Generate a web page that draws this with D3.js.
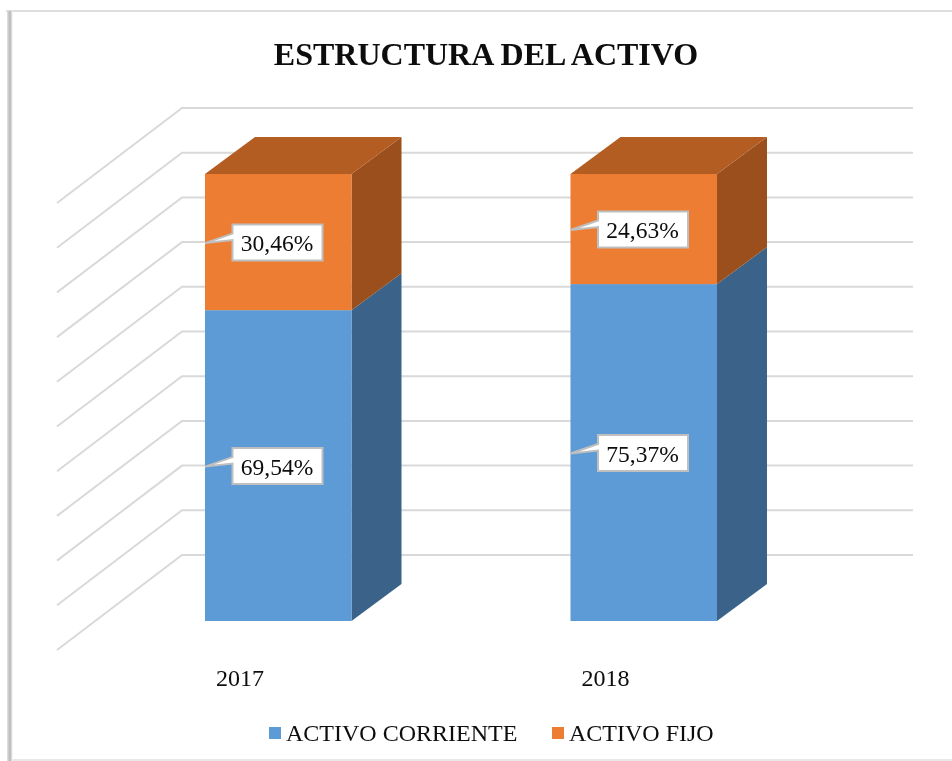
<!DOCTYPE html>
<html><head><meta charset="utf-8">
<script src="https://cdn.jsdelivr.net/npm/d3@7"></script>
<style>html,body{margin:0;padding:0;background:#fff}svg{display:block}text{font-family:"Liberation Serif",serif;fill:#0b0b0b}</style>
</head><body><script>
const title = "ESTRUCTURA DEL ACTIVO";
const categories = ["2017", "2018"];
const seriesNames = ["ACTIVO CORRIENTE", "ACTIVO FIJO"];
const activoCorriente = [69.54, 75.37];
const activoFijo = [30.46, 24.63];
const frontColors = ["#5B9BD5", "#ED7D31"];
const sideColors = ["#3A6489", "#9A4F1C"];
const topColors = ["#4A7DAB", "#B45D22"];
const gridColor = "#D9D9D9";
const fmt = v => v.toFixed(2).replace(".", ",") + "%";

const W = 952, H = 761;
const svg = d3.select("body").append("svg").attr("width", W).attr("height", H);
const defs = svg.append("defs");
const lg = defs.append("linearGradient").attr("id", "edge");
lg.append("stop").attr("offset", 0).attr("stop-color", "#e6e6e6");
lg.append("stop").attr("offset", .5).attr("stop-color", "#b5b5b5");
lg.append("stop").attr("offset", 1).attr("stop-color", "#ffffff");
defs.append("filter").attr("id", "soft").append("feGaussianBlur").attr("stdDeviation", 0.4);

const root = svg.append("g").attr("filter", "url(#soft)");
// frame
root.append("rect").attr("x", 6).attr("y", 10).attr("width", W - 6).attr("height", 2).attr("fill", "#dedede");
root.append("rect").attr("x", 7).attr("y", 11).attr("width", 6).attr("height", H - 11).attr("fill", "url(#edge)");
root.append("rect").attr("x", 13).attr("y", 759).attr("width", W - 13).attr("height", 2).attr("fill", "#e8e8e8");

// 3D projection
const y = d3.scaleLinear().domain([0, 100]).range([621, 174]);
const barW = 146.5;
const x = d3.scalePoint().domain(categories).range([278.25, 643.75]);
const depth = { dx: 50, dy: -37 };
const floorBack = { x: 182, dy: -66 };
const floorFront = { x: 57, dy: 29 };
const bx = c => x(c) - barW / 2;

// gridlines
const grid = root.append("g").attr("fill", "none").attr("stroke", gridColor).attr("stroke-width", 2);
y.ticks(10).forEach(t => {
  const yy = y(t);
  grid.append("path").attr("d", d3.line()([[floorFront.x, yy + floorFront.dy], [floorBack.x, yy + floorBack.dy], [913, yy + floorBack.dy]]));
});

const stack = d3.stack().keys([0, 1]).value((d, k) => d[k])(categories.map((c, i) => [activoCorriente[i], activoFijo[i]]));

categories.forEach((c, i) => {
  const g = root.append("g");
  const x0 = bx(c), x1 = x0 + barW;
  stack.forEach((s, k) => {
    const yb = y(s[i][0]), yt = y(s[i][1]);
    g.append("path").attr("fill", sideColors[k]).attr("d", d3.line()([[x1, yb], [x1 + depth.dx, yb + depth.dy], [x1 + depth.dx, yt + depth.dy], [x1, yt]]) + "Z");
    if (k === stack.length - 1)
      g.append("path").attr("fill", topColors[k]).attr("d", d3.line()([[x0, yt], [x0 + depth.dx, yt + depth.dy], [x1 + depth.dx, yt + depth.dy], [x1, yt]]) + "Z");
    g.append("rect").attr("x", x0).attr("y", yt).attr("width", barW).attr("height", yb - yt).attr("fill", frontColors[k]);
  });
  // callout labels
  stack.forEach((s, k) => {
    const mid = (y(s[i][0]) + y(s[i][1])) / 2, v = s[i][1] - s[i][0];
    const cx = x0 + barW / 2 - 0.75, bw = 90, bh = 36;
    const l = cx - bw / 2, r = cx + bw / 2, t = mid - bh / 2 + 0.5, b = t + bh;
    g.append("path").attr("fill", "#fff").attr("stroke", "#BFBFBF").attr("stroke-width", 2)
      .attr("d", d3.line()([[l, t], [r, t], [r, b], [l, b], [l, mid - 2], [x0, mid + 1], [l, t + 9]]) + "Z");
    g.append("text").attr("x", cx - 0.5).attr("y", mid + 9).attr("text-anchor", "middle").attr("font-size", 23.5).text(fmt(v));
  });
  root.append("text").attr("x", x0 + 35).attr("y", 686).attr("text-anchor", "middle").attr("font-size", 24).text(c);
});

root.append("text").attr("x", 486).attr("y", 65).attr("text-anchor", "middle").attr("font-size", 32).attr("font-weight", "bold").text(title);

// legend
const legendX = [269, 552];
seriesNames.forEach((n, k) => {
  root.append("rect").attr("x", legendX[k]).attr("y", 727).attr("width", 12).attr("height", 12).attr("fill", frontColors[k]);
  root.append("text").attr("x", legendX[k] + 17).attr("y", 741).attr("font-size", 24).text(n);
});
</script></body></html>
